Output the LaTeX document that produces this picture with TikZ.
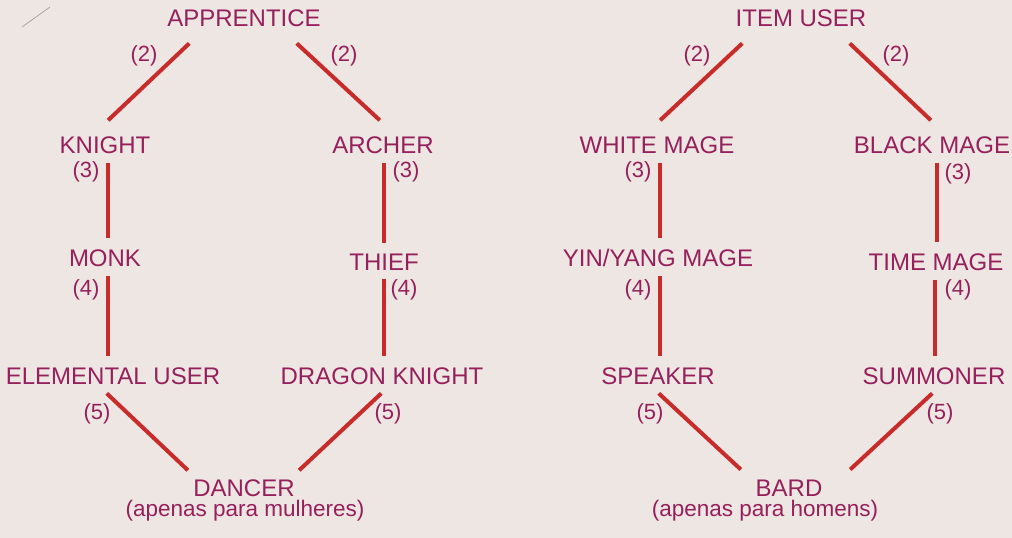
\documentclass[tikz,border=0pt]{standalone}
\usepackage{fontspec}
\setmainfont{Liberation Sans}
\usetikzlibrary{positioning,calc}

\definecolor{paper}{RGB}{238,230,226}
\definecolor{jobtext}{RGB}{150,32,92}
\definecolor{jobline}{RGB}{200,44,42}

\begin{document}
\begin{tikzpicture}[
    x=1pt, y=-1pt,
    job/.style={text=jobtext, font=\fontsize{24}{28}\selectfont, inner sep=8pt},
    rank/.style={text=jobtext, font=\fontsize{22}{26}\selectfont, inner sep=1pt},
    note/.style={text=jobtext, font=\fontsize{22.5}{26}\selectfont, inner sep=1pt},
    link/.style={draw=jobline, line width=4pt, shorten <=1pt, shorten >=3pt},
]

% Page
\fill[paper] (0,0) rectangle (1012,538);
\useasboundingbox (0,0) rectangle (1012,538);
\draw[gray!70, line width=0.8pt] (22,27) -- (50,7);

% Left tree
\node[job] (app) at (244,18) {APPRENTICE};
\node[job] (kn) at (105,145) {KNIGHT};
\node[job] (arc) at (383,145) {ARCHER};
\node[job] (monk) at (105,258) {MONK};
\node[job] (thief) at (384,262) {THIEF};
\node[job] (elem) at (113,376) {ELEMENTAL USER};
\node[job] (drag) at (382,376) {DRAGON KNIGHT};
\node[job] (dancer) at (244,488) {DANCER};
\node[note] (fem) at (245,511) {(apenas para mulheres)};

% Right tree
\node[job] (item) at (801,18) {ITEM USER};
\node[job] (white) at (657,145) {WHITE MAGE};
\node[job] (black) at (932,145) {BLACK MAGE};
\node[job] (yin) at (658,258) {YIN/YANG MAGE};
\node[job] (time) at (936,262) {TIME MAGE};
\node[job] (speak) at (658,376) {SPEAKER};
\node[job] (summ) at (934,376) {SUMMONER};
\node[job] (bard) at (789,488) {BARD};
\node[note] (male) at (765,511) {(apenas para homens)};

% Connectors, left tree
\draw[link] ([xshift=-54pt,yshift=-8pt]app.south) -- ([xshift=1pt,yshift=6pt]kn.north);
\draw[link] ([xshift=52pt,yshift=-8pt]app.south) -- ([xshift=-1pt,yshift=6pt]arc.north);
\draw[link] ([xshift=3pt]kn.south) -- ([xshift=3pt]kn.south |- monk.north);
\draw[link] ([xshift=1pt]arc.south) -- ([xshift=1pt]arc.south |- thief.north);
\draw[link] ([xshift=3pt]monk.south) -- ([xshift=3pt]monk.south |- elem.north);
\draw[link] (thief.south) -- (thief.south |- drag.north);
\draw[link] ([xshift=-7pt]elem.south) -- ([xshift=-54pt,yshift=-1pt]dancer.north);
\draw[link] (drag.south) -- ([xshift=53pt,yshift=-1pt]dancer.north);

% Connectors, right tree
\draw[link] ([xshift=-58pt,yshift=-8pt]item.south) -- ([xshift=1pt,yshift=6pt]white.north);
\draw[link] ([xshift=48pt,yshift=-8pt]item.south) -- ([xshift=1pt,yshift=6pt]black.north);
\draw[link] ([xshift=3pt]white.south) -- ([xshift=3pt]white.south |- yin.north);
\draw[link] ([xshift=5pt]black.south) -- ([xshift=5pt]black.south |- time.north);
\draw[link] ([xshift=2pt]yin.south) -- ([xshift=2pt]yin.south |- speak.north);
\draw[link] ([xshift=-1pt]time.south) -- ([xshift=-1pt]time.south |- summ.north);
\draw[link] (speak.south) -- ([xshift=-46pt]bard.north);
\draw[link] ([xshift=-1pt]summ.south) -- ([xshift=59pt]bard.north);

% Rank numbers
\node[rank] (r2a) at (144,56) {(2)};
\node[rank] (r2b) at (344,56) {(2)};
\node[rank] (r2c) at (697,56) {(2)};
\node[rank] (r2d) at (896,56) {(2)};
\node[rank] (r3a) at (86,172) {(3)};
\node[rank] (r3b) at (406,172) {(3)};
\node[rank] (r3c) at (638,172) {(3)};
\node[rank] (r3d) at (958,174) {(3)};
\node[rank] (r4a) at (86,290) {(4)};
\node[rank] (r4b) at (404,290) {(4)};
\node[rank] (r4c) at (638,290) {(4)};
\node[rank] (r4d) at (958,290) {(4)};
\node[rank] (r5a) at (97,414) {(5)};
\node[rank] (r5b) at (388,414) {(5)};
\node[rank] (r5c) at (650,414) {(5)};
\node[rank] (r5d) at (940,414) {(5)};

\end{tikzpicture}
\end{document}
